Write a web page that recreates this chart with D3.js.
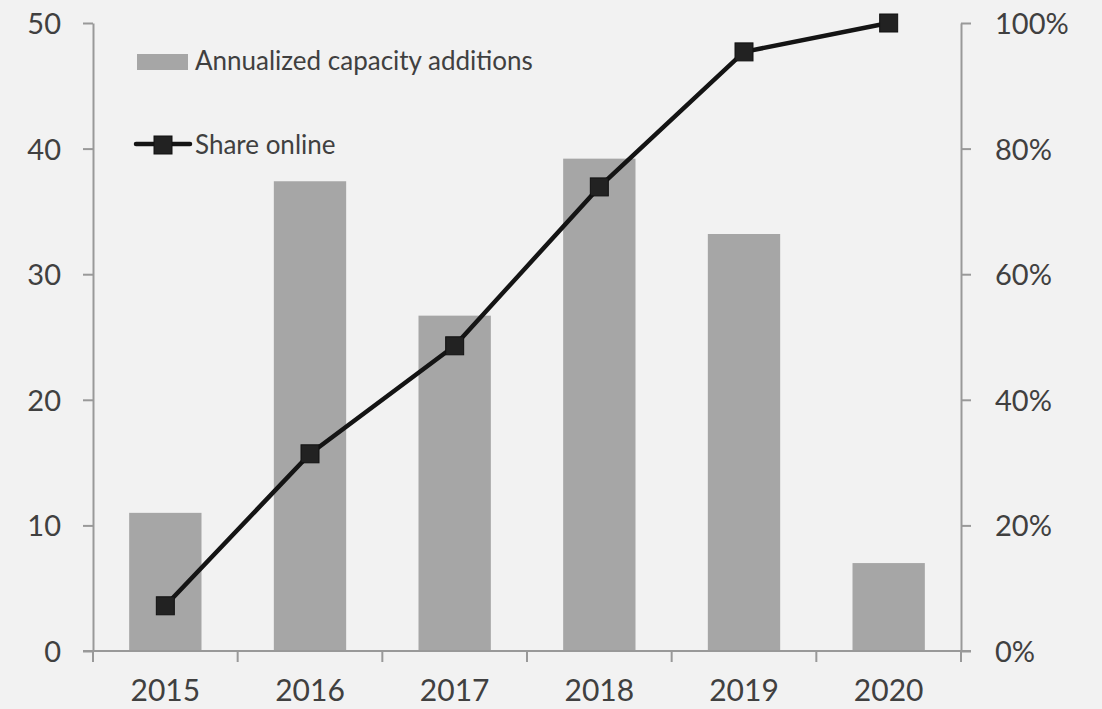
<!DOCTYPE html>
<html>
<head>
<meta charset="utf-8">
<script src="https://cdn.jsdelivr.net/npm/d3@7"></script>
<style>
  body { margin: 0; background: #f2f2f2; }
  svg { display: block; }
  text { font-family: Lato, "Open Sans", sans-serif; }
  .axis path, .axis line { stroke: #999999; stroke-width: 2; }
  .axis text { fill: #404040; }
</style>
</head>
<body>
<svg id="container" width="1102" height="709"></svg>
<script>
//data
var years = ['2015', '2016', '2017', '2018', '2019', '2020'];
var capacityAdditions = [11.0, 37.4, 26.7, 39.2, 33.2, 7.0];   //left axis
var shareOnline = [0.072, 0.314, 0.486, 0.739, 0.954, 1.0];     //right axis
var leftTicks = [0, 10, 20, 30, 40, 50];
var rightTicks = [0, 0.2, 0.4, 0.6, 0.8, 1.0];

var margin = {top: 23, right: 141, bottom: 58, left: 93};
var svg = d3.select('#container');
var innerWidth = +svg.attr('width') - margin.left - margin.right;
var innerHeight = +svg.attr('height') - margin.top - margin.bottom;

svg.append('rect').attr('width', 1102).attr('height', 709).attr('fill', '#f2f2f2');

var chart = svg.append('g')
    .attr('transform', `translate(${margin.left}, ${margin.top})`);

//scales
var x = d3.scaleBand().domain(years).range([0, innerWidth])
    .paddingInner(0.5).paddingOuter(0.25);
var yLeft = d3.scaleLinear().domain([0, 50]).range([innerHeight, 0]);
var yRight = d3.scaleLinear().domain([0, 1]).range([innerHeight, 0]);

//bars
chart.append('g')
  .selectAll('rect')
    .data(capacityAdditions)
  .enter().append('rect')
    .attr('x', (d, i) => x(years[i]))
    .attr('y', d => yLeft(d))
    .attr('width', x.bandwidth())
    .attr('height', d => innerHeight - yLeft(d))
    .attr('fill', '#a6a6a6');

//left axis
chart.append('g')
    .attr('class', 'axis')
    .call(d3.axisLeft(yLeft).tickValues(leftTicks).tickSize(10).tickPadding(22).tickSizeOuter(0))
    .attr('font-family', null).attr('font-size', 29)
    .selectAll('text').attr('dy', '0.36em');

//right axis
chart.append('g')
    .attr('class', 'axis')
    .attr('transform', `translate(${innerWidth}, 0)`)
    .call(d3.axisRight(yRight).tickValues(rightTicks).tickSize(10).tickPadding(24)
      .tickSizeOuter(0).tickFormat(d3.format('.0%')))
    .attr('font-family', null).attr('font-size', 29)
    .selectAll('text').attr('dy', '0.36em');

//x axis: labels centred on bands, ticks on band boundaries
var xAxis = chart.append('g')
    .attr('class', 'axis')
    .attr('transform', `translate(0, ${innerHeight})`);
xAxis.append('line')
    .attr('x1', -10).attr('x2', innerWidth + 10);
xAxis.selectAll('.bound')
    .data(years.concat(['end']))
  .enter().append('line')
    .attr('class', 'bound')
    .attr('x1', d => d === 'end' ? innerWidth : x(d) - x.step() * x.paddingOuter())
    .attr('x2', d => d === 'end' ? innerWidth : x(d) - x.step() * x.paddingOuter())
    .attr('y1', 0).attr('y2', 11);
xAxis.selectAll('.lbl')
    .data(years)
  .enter().append('text')
    .attr('class', 'lbl')
    .attr('x', d => x(d) + x.bandwidth() / 2)
    .attr('y', 50)
    .attr('text-anchor', 'middle')
    .attr('font-size', 30)
    .text(d => d);

//share online line
var line = d3.line()
    .x((d, i) => x(years[i]) + x.bandwidth() / 2)
    .y(d => yRight(d));

chart.append('path')
    .datum(shareOnline)
    .attr('d', line)
    .attr('fill', 'none')
    .attr('stroke', '#141414')
    .attr('stroke-width', 4.5)
    .attr('stroke-linejoin', 'round');

var m = 18;  //marker size
chart.append('g')
  .selectAll('rect')
    .data(shareOnline)
  .enter().append('rect')
    .attr('x', (d, i) => x(years[i]) + x.bandwidth() / 2 - m / 2)
    .attr('y', d => yRight(d) - m / 2)
    .attr('width', m).attr('height', m)
    .attr('fill', '#222222')
    .attr('stroke', '#111111')
    .attr('stroke-width', 1);

//legend
var legend = svg.append('g');
legend.append('rect')
    .attr('x', 137).attr('y', 54).attr('width', 51).attr('height', 16)
    .attr('fill', '#a6a6a6');
legend.append('text')
    .attr('x', 195).attr('y', 70)
    .attr('font-size', 26).attr('fill', '#404040')
    .text('Annualized capacity additions');

legend.append('line')
    .attr('x1', 136).attr('x2', 190).attr('y1', 144).attr('y2', 144)
    .attr('stroke', '#141414').attr('stroke-width', 4.5).attr('stroke-linecap', 'round');
legend.append('rect')
    .attr('x', 163 - m / 2).attr('y', 145 - m / 2).attr('width', m).attr('height', m)
    .attr('fill', '#222222').attr('stroke', '#111111');
legend.append('text')
    .attr('x', 195).attr('y', 154)
    .attr('font-size', 26).attr('fill', '#404040')
    .text('Share online');
</script>
</body>
</html>
